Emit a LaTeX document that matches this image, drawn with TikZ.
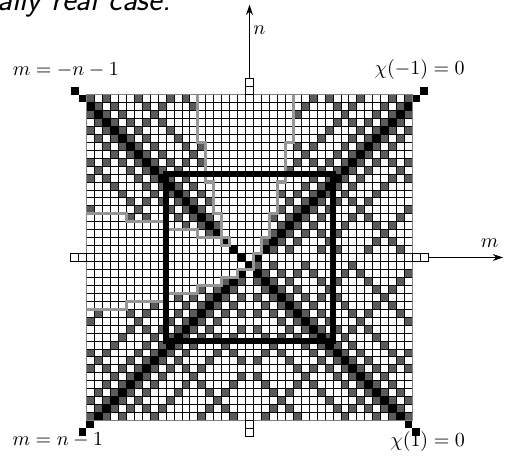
\documentclass[tikz,border=0pt]{standalone}
\usepackage{tikz}
\usetikzlibrary{arrows.meta}
\definecolor{cellgray}{RGB}{90, 90, 90}
\definecolor{stairgray}{RGB}{150, 150, 150}
\tikzset{
    cellbox/.style={draw=black, line width=0.4pt, fill=white},
    darkcell/.style={fill=cellgray},
    diagcell/.style={fill=black},
    gridline/.style={draw=black, line width=0.4pt},
    frameline/.style={draw=gray, line width=0.8pt},
    stairline/.style={draw=stairgray, line width=1.6pt, line join=miter},
    boxline/.style={draw=black, line width=2.7pt},
    axisarrow/.style={-{Stealth[length=1.8mm, width=1.2mm]}, line width=0.5pt},
    lbl/.style={font=\normalsize, inner sep=1pt},
}

\begin{document}
\begin{tikzpicture}[x=0.14cm, y=0.14cm]
    \useasboundingbox (-31.38,-25.22) rectangle (32.14,32.39);

    % slide text, cut by the page edge
    \node[anchor=base east, font=\sffamily\itshape\fontsize{16.5}{20}\selectfont, inner sep=0pt] (title) at (-9.8,31.1) {totally real case.};

    % grid of cells
    \fill[white] (-20.5,-20.5) rectangle (20.5,20.5);
    % |chi(1)| or |chi(-1)| of the form k^2+k+1, outside the two empty regions
    \foreach \m in {-20,...,20} {
        \foreach \n in {-20,...,20} {
            \pgfmathtruncatemacro{\au}{abs(\m+\n+1)}
            \pgfmathtruncatemacro{\av}{abs(\m-\n-1)}
            \pgfmathtruncatemacro{\hit}{(\au==1||\au==3||\au==7||\au==13||\au==21||\au==31)||(\av==1||\av==3||\av==7||\av==13||\av==21||\av==31)}
            \pgfmathtruncatemacro{\inV}{\n>=\m*(\m+1)/2}
            \pgfmathtruncatemacro{\inL}{\m<=-1-\n*(\n+1)/2}
            \ifnum\hit=1 \ifnum\inV=0 \ifnum\inL=0
                \fill[darkcell] (\m-0.5,\n-0.5) rectangle ++(1,1);
            \fi\fi\fi
        }
    }
    % axis strips
    \fill[white] (-0.5,-20.5) rectangle (0.5,20.5);
    \fill[white] (-20.5,-0.5) rectangle (20.5,0.5);
    % the two black diagonals
    \foreach \n in {-22,...,21} {
        \pgfmathtruncatemacro{\ma}{-\n-1}
        \pgfmathtruncatemacro{\mb}{\n+1}
        \fill[diagcell] (\ma-0.5,\n-0.5) rectangle ++(1,1);
        \fill[diagcell] (\mb-0.5,\n-0.5) rectangle ++(1,1);
    }
    \foreach \k in {-20,...,21} {
        \draw[gridline] (\k-0.5,-20.5) -- (\k-0.5,20.5);
        \draw[gridline] (-20.5,\k-0.5) -- (20.5,\k-0.5);
    }
    \draw[frameline] (-20.5,-20.5) rectangle (20.5,20.5);

    % axis cells outside the grid
    \foreach \k in {21,22} {
        \draw[cellbox] (-0.5,\k-0.5) rectangle ++(1,1);
        \draw[cellbox] (-0.5,-\k-0.5) rectangle ++(1,1);
        \draw[cellbox] (\k-0.5,-0.5) rectangle ++(1,1);
        \draw[cellbox] (-\k-0.5,-0.5) rectangle ++(1,1);
    }

    % staircases
    \draw[stairline] (-6.5,20.5) -- (-6.5,14.5) -- (-5.5,14.5) -- (-5.5,9.5) -- (-4.5,9.5) -- (-4.5,5.5)
        -- (-3.5,5.5) -- (-3.5,2.5) -- (-2.5,2.5) -- (-2.5,1.5) -- (-3.5,1.5) -- (-3.5,2.5)
        -- (-6.5,2.5) -- (-6.5,3.5) -- (-10.5,3.5) -- (-10.5,4.5) -- (-15.5,4.5) -- (-15.5,5.5) -- (-20.5,5.5);
    \draw[stairline] (5.5,20.5) -- (5.5,14.5) -- (4.5,14.5) -- (4.5,9.5) -- (3.5,9.5) -- (3.5,5.5)
        -- (2.5,5.5) -- (2.5,2.5) -- (1.5,2.5) -- (1.5,0.5) -- (0.5,0.5) -- (0.5,-1.5)
        -- (-1.5,-1.5) -- (-1.5,-2.5) -- (-3.5,-2.5) -- (-3.5,-3.5) -- (-6.5,-3.5) -- (-6.5,-4.5)
        -- (-10.5,-4.5) -- (-10.5,-5.5) -- (-15.5,-5.5) -- (-15.5,-6.5) -- (-20.5,-6.5);

    % square
    \draw[boxline] (-10.5,-10.5) rectangle (10.5,10.5);

    % axes
    \coordinate (ntop) at (0,22.5);
    \coordinate (nend) at (0,31.8);
    \coordinate (mright) at (22.5,0);
    \coordinate (mend) at (31.9,0);
    \draw[axisarrow] (ntop) -- (nend);
    \draw[axisarrow] (mright) -- (mend);
    \node[lbl, anchor=west] (nlabel) at (0.2,28.6) {$n$};
    \node[lbl] (mlabel) at (30.2,1.8) {$m$};

    % labels at the ends of the diagonals
    \node[lbl] (tl) at (-23.1,23.6) {$m=-n-1$};
    \node[lbl] (tr) at (21.4,23.6) {$\chi(-1)=0$};
    \node[lbl] (bl) at (-24.1,-23.0) {$m=n-1$};
    \node[lbl] (br) at (22.4,-23.1) {$\chi(1)=0$};
\end{tikzpicture}
\end{document}
